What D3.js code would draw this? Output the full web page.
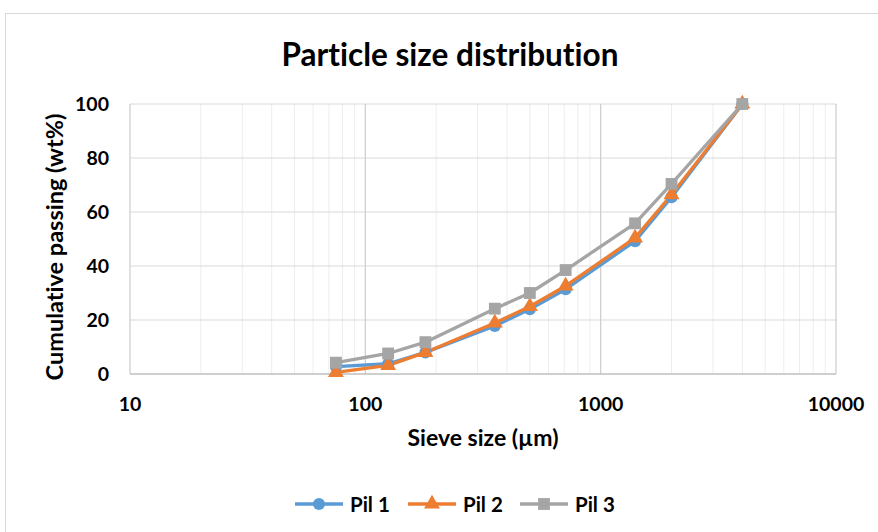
<!DOCTYPE html>
<html><head><meta charset="utf-8">
<script src="https://cdn.jsdelivr.net/npm/d3@7"></script>
<style>body{margin:0;background:#fff}svg{display:block}text{font-family:Lato,"Open Sans",sans-serif;font-weight:bold;font-variant-ligatures:none}</style>
</head><body>
<script>
const sieveSizes = [75, 125, 180, 355, 500, 710, 1400, 2000, 4000];
const pil1 = [2.7, 3.8, 8.0, 17.8, 24.0, 31.4, 49.2, 65.5, 100];
const pil2 = [0.6, 3.2, 8.0, 18.9, 25.0, 32.6, 50.4, 66.4, 100];
const pil3 = [4.2, 7.6, 11.8, 24.2, 30.0, 38.5, 55.8, 70.4, 100];
const seriesNames = ["Pil 1", "Pil 2", "Pil 3"];
const colors = ["#5B9BD5", "#ED7D31", "#A5A5A5"];
const xTicks = [10, 100, 1000, 10000];
const yTicks = [0, 20, 40, 60, 80, 100];

const W = 878, H = 532;
const svg = d3.select("body").append("svg").attr("width", W).attr("height", H);
svg.append("rect").attr("x", 5.5).attr("y", 13.5).attr("width", W).attr("height", H)
  .attr("fill", "#fff").attr("stroke", "#d9d9d9");

const x = d3.scaleLog().domain([10, 10000]).range([130, 836]);
const y = d3.scaleLinear().domain([0, 100]).range([374, 104]);

// minor vertical gridlines
const minor = [];
for (let d = 10; d < 10000; d *= 10) for (let k = 2; k <= 9; k++) minor.push(d * k);
svg.append("g").selectAll("line").data(minor).join("line")
  .attr("x1", d => x(d)).attr("x2", d => x(d)).attr("y1", y(100)).attr("y2", y(0))
  .attr("stroke", "#ededed").attr("stroke-width", 1);
// horizontal grid
svg.append("g").selectAll("line").data(yTicks.filter(d => d > 0)).join("line")
  .attr("x1", 130).attr("x2", 836).attr("y1", d => y(d)).attr("y2", d => y(d))
  .attr("stroke", "#d9d9d9").attr("stroke-width", 1);
// major vertical gridlines
svg.append("g").selectAll("line").data(xTicks).join("line")
  .attr("x1", d => x(d)).attr("x2", d => x(d)).attr("y1", y(100)).attr("y2", y(0))
  .attr("stroke", "#d0d0d0").attr("stroke-width", 1.3);
// x axis line
svg.append("line").attr("x1", 130).attr("x2", 836).attr("y1", y(0)).attr("y2", y(0))
  .attr("stroke", "#bfbfbf").attr("stroke-width", 1.3);

// tick labels
svg.append("g").selectAll("text").data(yTicks).join("text")
  .attr("x", 109).attr("y", d => y(d) + 7).attr("text-anchor", "end")
  .attr("font-size", 19.5).attr("fill", "#000").text(d => d);
svg.append("g").selectAll("text").data(xTicks).join("text")
  .attr("x", d => x(d)).attr("y", 411).attr("text-anchor", "middle")
  .attr("font-size", 19.5).attr("fill", "#000").text(d => d);

// titles
svg.append("text").attr("x", 450).attr("y", 66).attr("text-anchor", "middle")
  .attr("font-size", 31.5).attr("fill", "#000").text("Particle size distribution");
svg.append("text").attr("x", 483).attr("y", 446).attr("text-anchor", "middle")
  .attr("font-size", 23).attr("fill", "#000").text("Sieve size (µm)");
svg.append("text").attr("transform", "translate(63,247) rotate(-90)").attr("text-anchor", "middle")
  .attr("font-size", 23.5).attr("fill", "#000").text("Cumulative passing (wt%)");

const data = [pil1, pil2, pil3];
const line = d3.line().x((d, i) => x(sieveSizes[i])).y(d => y(d));
const symbols = [d3.symbolCircle, d3.symbolTriangle, d3.symbolSquare];
const symSize = [115, 110, 140];

data.forEach((vals, s) => {
  svg.append("path").datum(vals).attr("d", line).attr("fill", "none")
    .attr("stroke", colors[s]).attr("stroke-width", 3.3).attr("stroke-linejoin", "round");
});
data.forEach((vals, s) => {
  svg.append("g").selectAll("path").data(vals).join("path")
    .attr("transform", (d, i) => `translate(${x(sieveSizes[i])},${y(d)})`)
    .attr("d", d3.symbol().type(symbols[s]).size(symSize[s])).attr("fill", colors[s]);
});

// legend
const legX = [295, 408, 520];
seriesNames.forEach((n, s) => {
  const g = svg.append("g").attr("transform", `translate(${legX[s]},504)`);
  g.append("line").attr("x1", 0).attr("x2", 48).attr("stroke", colors[s]).attr("stroke-width", 3.3);
  g.append("path").attr("transform", "translate(24,0)")
    .attr("d", d3.symbol().type(symbols[s]).size(symSize[s])).attr("fill", colors[s]);
  g.append("text").attr("x", 55).attr("y", 8).attr("font-size", 20.5).attr("fill", "#000").text(n);
});
</script>
</body></html>
